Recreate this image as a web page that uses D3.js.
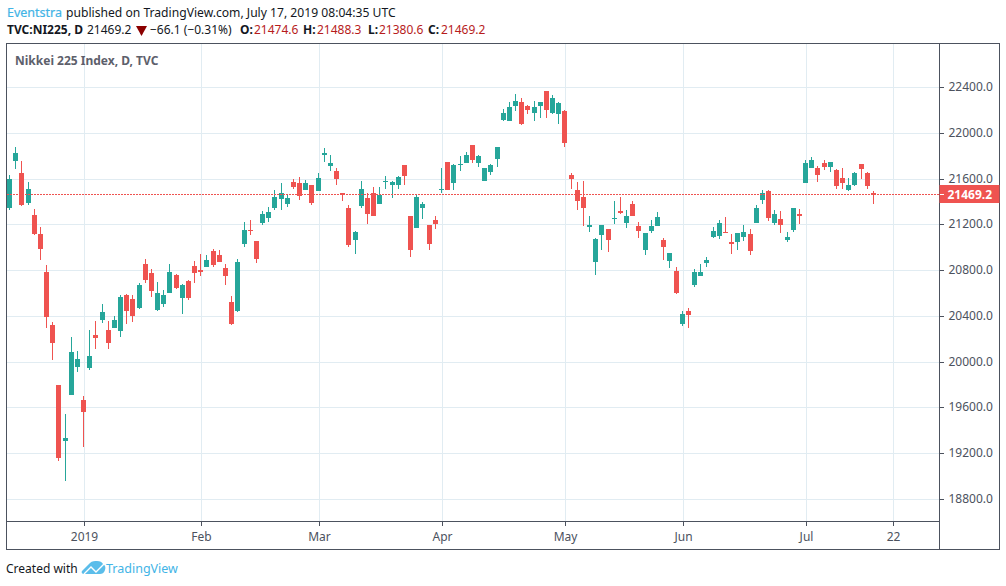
<!DOCTYPE html>
<html>
<head>
  <meta charset="utf-8">
  <script src="https://d3js.org/d3.v7.min.js"></script>
  <style>
    html, body { margin: 0; padding: 0; background: #fff; }
    svg { display: block; }
    text { font-family: "Noto Sans", sans-serif; }
    .axis text { font-size: 12px; fill: #4c525e; }
    .axis line, .axis path { stroke: #4c525e; shape-rendering: crispEdges; }
    .grid line { stroke: #e1ecf2; shape-rendering: crispEdges; }
    .candle rect, .candle line { shape-rendering: crispEdges; }
  </style>
</head>
<body>
<script type="text/javascript">
// Daily candles, oldest first
var opens = [
  21342,21750,21645,21383,21278,21112,20780,20317,19793,19304,
  19706,19951,19662,19942,20230,20361,20274,20291,20265,20579,
  20544,20466,20850,20771,20448,20501,20597,20754,20553,20702,
  20833,20798,20824,20964,20929,20815,20518,20440,21025,21147,
  21051,21208,21252,21339,21418,21374,21566,21557,21496,21540,
  21488,21802,21706,21662,21470,21339,21059,21356,21426,21478,
  21374,21566,21548,21540,21715,21269,21164,21347,21190,21234,
  21496,21749,21557,21715,21732,21897,21740,21575,21653,21775,
  22116,22099,22230,22273,22238,22177,22230,22361,22177,22160,
  22186,21627,21496,21435,21173,20867,21103,21155,21243,21313,
  21208,21374,21182,20972,21146,21182,21059,20876,20789,20326,
  20439,20666,20745,20858,21085,21094,21129,21042,21042,21085,
  21112,21216,21409,21487,21216,21243,21059,21147,21286,21557,
  21688,21688,21740,21697,21671,21601,21496,21540,21723,21645,
  21474.6];
var highs = [
  21633,21872,21750,21566,21330,21173,20841,20344,19793,19540,
  20213,20090,19697,20274,20352,20501,20352,20396,20579,20588,
  20579,20684,20894,20806,20693,20623,20850,20763,20675,20710,
  20876,20937,20929,20981,20972,20850,20571,20894,21217,21234,
  21051,21313,21348,21496,21557,21453,21592,21610,21584,21540,
  21645,21863,21802,21688,21478,21365,21146,21575,21478,21522,
  21522,21618,21583,21618,21715,21277,21461,21391,21190,21269,
  21688,21749,21723,21793,21836,21897,21810,21688,21723,21880,
  22212,22265,22343,22308,22247,22282,22265,22361,22334,22273,
  22195,21645,21566,21583,21277,21077,21190,21155,21400,21435,
  21321,21408,21217,21121,21234,21304,21077,20946,20824,20439,
  20465,20806,20850,20911,21173,21234,21260,21112,21120,21190,
  21155,21365,21496,21496,21321,21313,21129,21339,21330,21758,
  21784,21714,21758,21749,21680,21688,21601,21653,21723,21653,
  21488.3];
var lows = [
  21325,21680,21357,21365,21103,20885,20291,20012,19130,18955,
  19706,19907,19252,19924,20108,20335,20108,20291,20213,20326,
  20344,20457,20684,20562,20440,20475,20597,20632,20413,20536,
  20684,20745,20824,20824,20868,20667,20317,20431,20999,21103,
  20859,21191,21217,21322,21322,21348,21505,21409,21496,21365,
  21488,21741,21662,21548,21408,20998,20937,21347,21199,21277,
  21374,21505,21426,21505,21548,20911,21164,21243,20980,21155,
  21470,21496,21496,21662,21732,21740,21697,21575,21627,21697,
  22107,22099,22186,22064,22160,22099,22125,22125,22160,22073,
  21880,21513,21321,21182,21129,20753,20972,20955,21199,21286,
  21164,21269,21077,20928,21121,21182,20885,20815,20588,20308,
  20291,20649,20745,20824,21077,21068,21120,20937,20972,21051,
  20928,21216,21382,21225,21190,21120,21042,21129,21199,21557,
  21688,21566,21671,21653,21505,21513,21487,21531,21592,21513,
  21380.6];
var closes = [
  21598,21819,21365,21505,21112,20981,20387,20160,19156,19330,
  20082,20020,19558,20047,20204,20431,20160,20361,20562,20440,
  20396,20667,20710,20614,20597,20579,20780,20640,20667,20553,
  20771,20780,20885,20841,20868,20745,20326,20868,21147,21138,
  20894,21287,21304,21435,21470,21426,21522,21444,21557,21383,
  21601,21819,21732,21592,21452,21016,21129,21505,21286,21277,
  21452,21583,21566,21610,21618,20972,21435,21382,21024,21199,
  21513,21496,21715,21723,21810,21758,21801,21688,21715,21872,
  22169,22221,22282,22081,22195,22221,22265,22195,22308,22256,
  21915,21592,21400,21339,21190,21068,21190,21059,21252,21295,
  21277,21277,21146,21121,21182,21260,20998,20946,20596,20413,
  20404,20780,20780,20885,21138,21208,21120,21024,21120,21129,
  20963,21339,21470,21251,21286,21190,21085,21339,21269,21732,
  21758,21627,21697,21749,21531,21557,21540,21645,21680,21531,
  21469.2];

var priceTicks = [18800,19200,19600,20000,20400,20800,21200,21600,22000,22400];
var timeTickBars = [12,31,50,70,90,109,129,143];
var timeTickLabels = ["2019","Feb","Mar","Apr","May","Jun","Jul","22"];
var lastPrice = 21469.2;

var upColor = "#26a69a", downColor = "#ef5350", axisColor = "#4c525e", blue = "#42b4e6";
var paneLeft = 6.5, paneTop = 43.5, paneRight = 939.5, paneBottom = 521.5, axisBottom = 549.5, outerRight = 999.5;

var svg = d3.select("body").append("svg").attr("width", 1006).attr("height", 586);

var x = d3.scaleLinear().domain([0, 140]).rangeRound([9, 873]);
var xTick = d3.scaleLinear().domain([0, 140]).rangeRound([10, 874]);
var y = d3.scaleLinear().domain([18800, 22400]).rangeRound([499, 87]);

// Grid
var grid = svg.append("g").attr("class", "grid");
grid.selectAll(".h").data(priceTicks).enter().append("line")
    .attr("x1", paneLeft).attr("x2", paneRight)
    .attr("y1", function(d) { return y(d) + 0.5; })
    .attr("y2", function(d) { return y(d) + 0.5; });
grid.selectAll(".v").data(timeTickBars).enter().append("line")
    .attr("y1", paneTop).attr("y2", paneBottom)
    .attr("x1", function(d) { return xTick(d) + 0.5; })
    .attr("x2", function(d) { return xTick(d) + 0.5; });

// Candles
var candles = svg.append("g").attr("class", "candle")
  .selectAll("g").data(d3.range(opens.length)).enter().append("g")
    .attr("fill", function(i) { return closes[i] >= opens[i] ? upColor : downColor; })
    .attr("stroke", function(i) { return closes[i] >= opens[i] ? upColor : downColor; });
candles.append("line")
    .attr("x1", function(i) { return x(i) + 0.5; })
    .attr("x2", function(i) { return x(i) + 0.5; })
    .attr("y1", function(i) { return y(highs[i]); })
    .attr("y2", function(i) { return y(lows[i]); });
candles.append("rect")
    .attr("stroke", "none")
    .attr("x", function(i) { return x(i) - 2; })
    .attr("width", 5)
    .attr("y", function(i) { return y(Math.max(opens[i], closes[i])); })
    .attr("height", function(i) { return Math.max(1, y(Math.min(opens[i], closes[i])) - y(Math.max(opens[i], closes[i]))); });

// Last price line
svg.append("line")
    .attr("x1", paneLeft).attr("x2", paneRight)
    .attr("y1", y(lastPrice) + 0.5).attr("y2", y(lastPrice) + 0.5)
    .attr("stroke", downColor)
    .attr("stroke-dasharray", "2,1")
    .attr("shape-rendering", "crispEdges");

// Frame
svg.append("path")
    .attr("fill", "none").attr("stroke", axisColor).attr("shape-rendering", "crispEdges")
    .attr("d", d3.line()([[paneLeft, axisBottom], [paneLeft, paneTop], [outerRight, paneTop], [outerRight, axisBottom], [paneLeft, axisBottom]]));

// Axes
var priceAxis = d3.axisRight(y).tickValues(priceTicks).tickFormat(d3.format(".1f")).tickSize(4).tickPadding(5);
svg.append("g").attr("class", "axis")
    .attr("transform", "translate(" + paneRight + ",0)")
    .call(priceAxis)
    .select(".domain").attr("d", "M0," + paneTop + "V" + axisBottom);

var timeAxis = d3.axisBottom(xTick).tickValues(timeTickBars)
    .tickFormat(function(d, i) { return timeTickLabels[i]; }).tickSize(4).tickPadding(7);
svg.append("g").attr("class", "axis")
    .attr("transform", "translate(0," + paneBottom + ")")
    .call(timeAxis)
    .select(".domain").attr("d", "M" + paneLeft + ",0H" + paneRight);

// Last price tag
svg.append("rect").attr("x", paneRight).attr("y", 185).attr("width", outerRight - paneRight).attr("height", 18).attr("fill", downColor);
svg.append("line").attr("x1", paneRight).attr("x2", paneRight + 4).attr("y1", y(lastPrice) + 0.5).attr("y2", y(lastPrice) + 0.5)
    .attr("stroke", "#fff").attr("shape-rendering", "crispEdges");
svg.append("text").attr("x", paneRight + 8).attr("y", 198.5).attr("fill", "#fff")
    .attr("font-size", 12).attr("font-weight", 700).text(d3.format(".1f")(lastPrice));

// Pane title
svg.append("text").attr("x", 15).attr("y", 65).attr("fill", "#5d606b")
    .attr("font-size", 12).attr("font-weight", 700).text("Nikkei 225 Index, D, TVC");

// Header
function label(px, py, str, color, bold, parent) {
  return (parent || svg).append("text").attr("x", px).attr("y", py)
      .attr("fill", color).attr("font-size", 12)
      .attr("font-weight", bold ? 700 : 400).text(str);
}
label(7, 17, "Eventstra", blue, false).attr("font-size", 12.5).attr("stroke", blue).attr("stroke-width", 0.2);
label(66, 17, "published on TradingView.com, July 17, 2019 08:04:35 UTC", "#131722", false).attr("font-size", 12.13);

var dark = "#131722", ohlcRed = "#b71c1c";
label(7, 34, "TVC:NI225, D", dark, true);
label(87, 34, "21469.2", dark, false);
svg.append("path").attr("d", "M136,26H147L141.5,36Z").attr("fill", "#8b0000");
label(150, 34, "\u221266.1 (\u22120.31%)", dark, false);
label(240, 34, "O:", dark, true);
label(254, 34, "21474.6", ohlcRed, false);
label(303, 34, "H:", dark, true);
label(317, 34, "21488.3", ohlcRed, false);
label(368, 34, "L:", dark, true);
label(379, 34, "21380.6", ohlcRed, false);
label(428, 34, "C:", dark, true);
label(441, 34, "21469.2", ohlcRed, false);

// Footer
label(6, 573, "Created with", dark, false);
svg.append("path").attr("fill", "#5bbdea")
    .attr("d", "M82,571L90,563C92,561 95,561 97,561C100,561 102,562 103,564C105,565 106,567 105,570C104,573 102,574 100,574L84,574C82,574 81,572 82,571Z");
svg.append("path").attr("fill", "none").attr("stroke", "#fff").attr("stroke-width", 1.4)
    .attr("d", "M84,574L91,567L96,572L104,564");
label(106, 573, "TradingView", blue, false).attr("font-size", 12.5);
</script>
</body>
</html>
